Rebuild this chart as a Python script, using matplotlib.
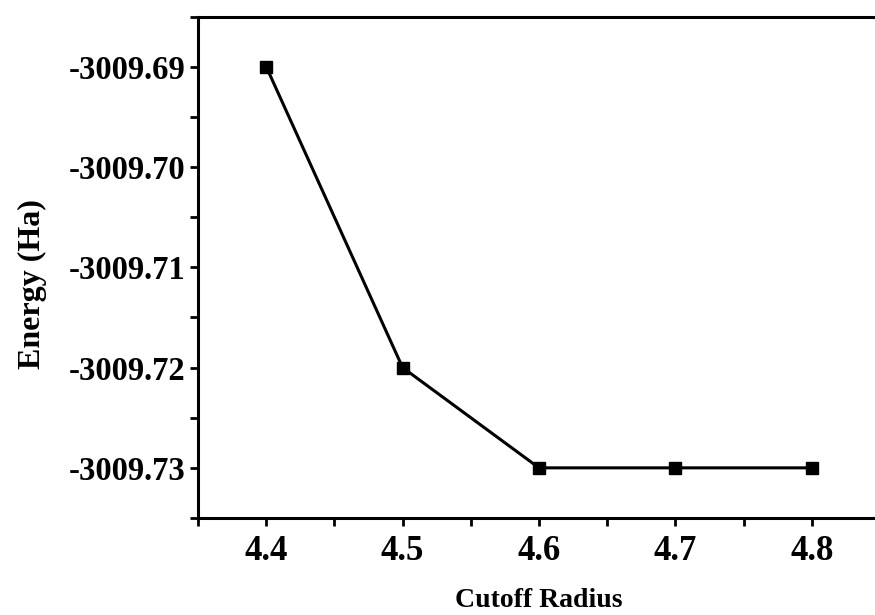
import matplotlib
matplotlib.use("Agg")
import matplotlib.pyplot as plt
from matplotlib.ticker import MultipleLocator, FormatStrFormatter

cutoff_radius = [4.4, 4.5, 4.6, 4.7, 4.8]
energy = [-3009.69, -3009.72, -3009.73, -3009.73, -3009.73]

plt.rcParams['font.family'] = ['Liberation Serif', 'DejaVu Serif']
plt.rcParams['font.weight'] = 'bold'

fig = plt.figure(figsize=(8.75, 6.15), dpi=100)
ax = fig.add_axes([198/875, 1 - 518/615, (880 - 198)/875, (518 - 16.5)/615])

ax.plot(cutoff_radius, energy, color='black', linewidth=2.2, marker='s',
        markersize=8, markerfacecolor='black', markeredgecolor='black')

ax.set_xlim(4.35, 4.85)
ax.set_ylim(-3009.735, -3009.685)
ax.xaxis.set_major_locator(MultipleLocator(0.1))
ax.xaxis.set_minor_locator(MultipleLocator(0.05))
ax.yaxis.set_major_locator(MultipleLocator(0.01))
ax.yaxis.set_minor_locator(MultipleLocator(0.005))
ax.xaxis.set_major_formatter(FormatStrFormatter('%.1f'))
ax.yaxis.set_major_formatter(FormatStrFormatter('%.2f'))

for s in ax.spines.values():
    s.set_linewidth(2.2)
ax.spines['right'].set_visible(False)

ax.tick_params(axis='both', which='both', direction='out', width=2, length=6)
ax.tick_params(axis='x', which='both', top=False, labelsize=25, pad=6)
ax.tick_params(axis='y', which='both', right=False, labelsize=23.5, pad=3)
for lbl in ax.get_xticklabels() + ax.get_yticklabels():
    lbl.set_fontweight('bold')

ax.set_xlabel('Cutoff Radius', fontsize=20, fontweight='bold')
ax.set_ylabel('Energy (Ha)', fontsize=23, fontweight='bold')
ax.xaxis.set_label_coords(0.5, (518 - 588) / 502)
ax.yaxis.set_label_coords((47 - 198) / 682, 0.466)

fig.savefig('out.png', dpi=100)
